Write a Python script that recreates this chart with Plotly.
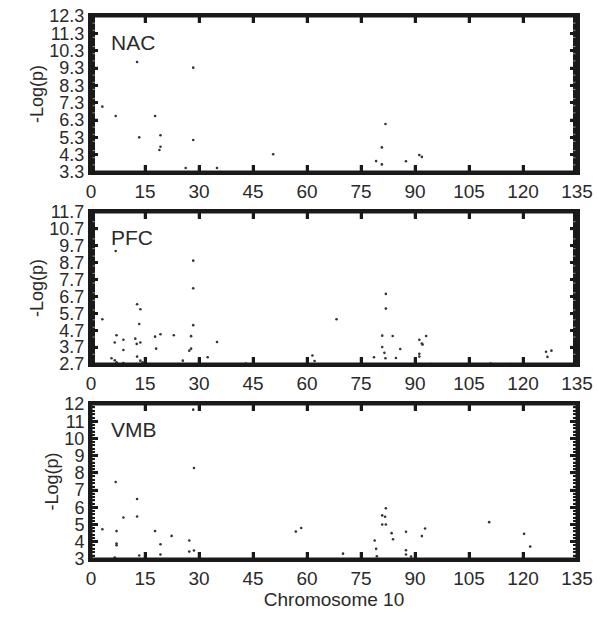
import plotly.graph_objects as go
from plotly.subplots import make_subplots

# NAC
nac_x = [12.8, 28.4, 3.15, 6.85, 17.8, 13.4, 19.3, 28.4, 19.3, 19.0, 50.6, 26.3, 35.0,
         81.8, 80.8, 79.2, 80.8, 87.5, 91.2, 91.9]
nac_y = [9.65, 9.32, 7.07, 6.53, 6.53, 5.30, 5.42, 5.15, 4.76, 4.57, 4.32, 3.53, 3.53,
         6.07, 4.72, 3.93, 3.74, 3.92, 4.28, 4.17]

# PFC
pfc_x = [6.85, 28.4, 28.4, 12.8, 13.7, 3.15, 13.4, 28.4, 7.1, 6.6, 9.0, 9.0, 12.3, 12.7,
         13.7, 17.8, 19.3, 18.1, 23.0, 27.8, 27.8, 27.3, 35.0, 5.7, 6.6, 7.1, 9.0, 12.8,
         13.7, 14.3, 25.5, 32.4, 43.0,
         81.9, 81.9, 68.2, 80.9, 83.8, 80.9, 85.9, 81.5, 78.6, 81.8, 84.7, 91.2, 91.9,
         92.1, 93.1, 91.2, 91.2, 61.5, 62.1, 94.6, 111.0, 116.4, 126.4, 127.9, 126.8]
pfc_y = [9.39, 8.82, 7.18, 6.24, 5.94, 5.35, 5.07, 5.00, 4.40, 3.97, 4.14, 3.53, 4.20, 3.89,
         3.97, 4.32, 4.46, 3.61, 4.40, 4.35, 3.61, 3.49, 4.00, 3.04, 2.92, 2.80, 2.75, 3.14,
         2.90, 2.80, 2.90, 3.10, 2.72,
         6.85, 5.98, 5.35, 4.38, 4.36, 3.71, 3.59, 3.36, 3.10, 3.04, 3.06, 4.14, 3.91,
         3.85, 4.36, 3.30, 3.14, 3.20, 2.88, 2.70, 2.72, 2.70, 3.43, 3.49, 3.12]

# VMB
vmb_x = [28.4, 28.6, 6.85, 12.8, 9.0, 12.8, 3.15, 7.1, 17.8, 22.4, 7.1, 7.1, 19.3, 27.3,
         27.3, 28.6, 19.3, 13.4, 6.6,
         56.9, 58.4, 81.9, 80.9, 81.7, 80.9, 81.9, 83.5, 83.9, 87.5, 91.9, 92.8, 78.8,
         79.2, 79.4, 70.0, 87.5, 87.5, 88.9, 110.6, 120.3, 122.0]
vmb_y = [11.67, 8.28, 7.47, 6.48, 5.41, 5.47, 4.73, 4.62, 4.62, 4.34, 3.90, 3.80, 3.86, 4.07,
         3.43, 3.49, 3.26, 3.20, 3.08,
         4.59, 4.80, 5.95, 5.53, 5.45, 5.00, 5.00, 4.50, 4.15, 4.58, 4.33, 4.77, 4.07,
         3.59, 3.16, 3.31, 3.51, 3.26, 3.14, 5.14, 4.46, 3.72]

x_ticks = list(range(0, 136, 15))
nac_ticks = [round(3.3 + i, 1) for i in range(10)]
pfc_ticks = [round(2.7 + i, 1) for i in range(10)]
vmb_ticks = [3 + i for i in range(10)]

panels = [
    ("NAC", nac_x, nac_y, nac_ticks, [f"{v:.1f}" for v in nac_ticks]),
    ("PFC", pfc_x, pfc_y, pfc_ticks, [f"{v:.1f}" for v in pfc_ticks]),
    ("VMB", vmb_x, vmb_y, vmb_ticks, [str(v) for v in vmb_ticks]),
]

fig = make_subplots(rows=3, cols=1)
domains = [[0.7127, 1.0], [0.3591, 0.639], [0.0, 0.2855]]
axis_col = "#1a1a1a"
txt_col = "#2a2a2a"
shapes = []

for i, (name, xs, ys, yt, ytt) in enumerate(panels):
    r = i + 1
    xr = "x" if r == 1 else f"x{r}"
    yr = "y" if r == 1 else f"y{r}"
    y0, y1 = yt[0], yt[-1]

    fig.add_trace(go.Scatter(
        x=xs, y=ys, mode="markers",
        marker=dict(size=2.6, color="#333333"),
        showlegend=False, hoverinfo="skip"
    ), row=r, col=1)

    fig.update_xaxes(
        range=[0, 135], tickvals=x_ticks, ticks="inside", ticklen=7, tickwidth=2.5,
        tickcolor=axis_col, showline=True, linewidth=3, linecolor=axis_col,
        mirror="ticks", tickfont=dict(size=19, color=txt_col), row=r, col=1
    )
    fig.update_yaxes(
        range=[y0, y1], tickvals=yt, ticktext=ytt, ticks="inside", ticklen=7,
        tickwidth=2.5, tickcolor=axis_col, showline=True, linewidth=3,
        linecolor=axis_col, mirror="ticks",
        minor=dict(ticks="inside", ticklen=4, tickwidth=1.5, tickcolor=axis_col,
                   dtick=0.2),
        tickfont=dict(size=18, color=txt_col),
        title=dict(text="-Log(p)", font=dict(size=18, color=txt_col), standoff=2),
        domain=domains[i], row=r, col=1
    )

    # cadre + graduations dessinés en formes (au cas où les lignes d'axe manquent)
    shapes.append(dict(type="rect", xref=xr, yref=yr, x0=0, x1=135, y0=y0, y1=y1,
                       line=dict(color=axis_col, width=3)))
    for xv in x_ticks[1:-1]:
        shapes.append(dict(type="line", xref=xr, yref=yr, x0=xv, x1=xv,
                           ysizemode="pixel", yanchor=y0, y0=0, y1=7,
                           line=dict(color=axis_col, width=2.5)))
        shapes.append(dict(type="line", xref=xr, yref=yr, x0=xv, x1=xv,
                           ysizemode="pixel", yanchor=y1, y0=-7, y1=0,
                           line=dict(color=axis_col, width=2.5)))
    n_minor = int(round((y1 - y0) / 0.2))
    for k in range(1, n_minor):
        yv = round(y0 + 0.2 * k, 2)
        major = (k % 5 == 0)
        ln = 7 if major else 4
        w = 2.5 if major else 1.5
        shapes.append(dict(type="line", xref=xr, yref=yr, y0=yv, y1=yv,
                           xsizemode="pixel", xanchor=0, x0=0, x1=ln,
                           line=dict(color=axis_col, width=w)))
        shapes.append(dict(type="line", xref=xr, yref=yr, y0=yv, y1=yv,
                           xsizemode="pixel", xanchor=135, x0=-ln, x1=0,
                           line=dict(color=axis_col, width=w)))

    d0, d1 = domains[i]
    fig.add_annotation(
        text=name, xref="paper", yref="paper",
        x=0.037, y=d0 + 0.833 * (d1 - d0), xanchor="left", yanchor="middle",
        showarrow=False, font=dict(size=21, color=txt_col)
    )

fig.update_xaxes(title=dict(text="Chromosome 10", font=dict(size=19, color=txt_col),
                            standoff=4), row=3, col=1)

fig.update_layout(
    width=602, height=620,
    margin=dict(l=91, r=25, t=16, b=61, autoexpand=False),
    plot_bgcolor="white",
    shapes=shapes,
    font=dict(family="Liberation Sans, Arial", size=18, color=txt_col),
)

fig.write_html("out.html", config={"displayModeBar": False},
               post_script="document.body.style.margin='0';")
